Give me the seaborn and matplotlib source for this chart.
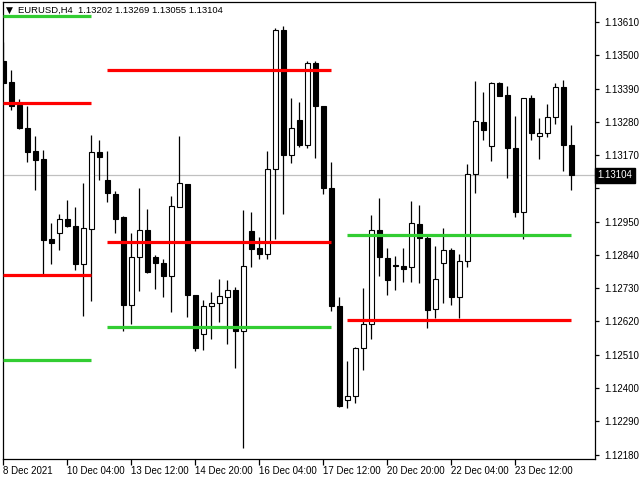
import numpy as np
import pandas as pd
import matplotlib
matplotlib.use("Agg")
import matplotlib.pyplot as plt
import matplotlib.transforms as mtransforms
import seaborn as sns

# =====================================================
# EURUSD H4 candles
# =====================================================
opens = [1.13480, 1.13413, 1.13335, 1.13261, 1.13184, 1.13157, 1.12891, 1.12914, 1.12959, 1.12936,
         1.12810, 1.12927, 1.13181, 1.13088, 1.13042, 1.12965, 1.12673, 1.12832, 1.12923, 1.12832,
         1.12813, 1.12770, 1.13000, 1.13075, 1.12708, 1.12578, 1.12671, 1.12681, 1.12702, 1.12724,
         1.12590, 1.12920, 1.12863, 1.12843, 1.13123, 1.13584, 1.13170, 1.13287, 1.13202, 1.13474,
         1.13333, 1.13062, 1.12672, 1.12361, 1.12375, 1.12531, 1.12612, 1.12923, 1.12829, 1.12807,
         1.12804, 1.12799, 1.12942, 1.12896, 1.12661, 1.12813, 1.12857, 1.12700, 1.12819, 1.13108,
         1.13279, 1.13201, 1.13408, 1.13369, 1.13195, 1.12983, 1.13358, 1.13234, 1.13243, 1.13295,
         1.13395, 1.13202]
highs = [1.13543, 1.13452, 1.13357, 1.13331, 1.13232, 1.13188, 1.12947, 1.12976, 1.13020, 1.13000,
         1.13079, 1.13235, 1.13221, 1.13184, 1.13050, 1.12969, 1.12914, 1.13062, 1.12991, 1.12840,
         1.12826, 1.13035, 1.13232, 1.13075, 1.12708, 1.12692, 1.12717, 1.12761, 1.12758, 1.12735,
         1.12987, 1.12983, 1.12899, 1.13184, 1.13591, 1.13598, 1.13358, 1.13346, 1.13481, 1.13481,
         1.13333, 1.13147, 1.12702, 1.12489, 1.12537, 1.12730, 1.12973, 1.13028, 1.12862, 1.12837,
         1.12862, 1.13017, 1.13004, 1.12909, 1.12870, 1.12928, 1.12862, 1.12843, 1.13141, 1.13416,
         1.13379, 1.13413, 1.13413, 1.13399, 1.13298, 1.13358, 1.13369, 1.13294, 1.13339, 1.13408,
         1.13418, 1.13269]
lows = [1.13409, 1.13318, 1.13257, 1.13146, 1.13055, 1.12771, 1.12810, 1.12857, 1.12932, 1.12791,
        1.12638, 1.12688, 1.13088, 1.13016, 1.12914, 1.12590, 1.12612, 1.12721, 1.12780, 1.12728,
        1.12702, 1.12652, 1.12998, 1.12636, 1.12523, 1.12525, 1.12562, 1.12617, 1.12544, 1.12467,
        1.12203, 1.12801, 1.12826, 1.12826, 1.12894, 1.12975, 1.13144, 1.13198, 1.13195, 1.13162,
        1.13040, 1.12655, 1.12338, 1.12333, 1.12351, 1.12459, 1.12561, 1.12771, 1.12706, 1.12724,
        1.12751, 1.12750, 1.12746, 1.12598, 1.12631, 1.12682, 1.12674, 1.12633, 1.12801, 1.13044,
        1.13221, 1.13151, 1.13364, 1.13095, 1.12965, 1.12892, 1.13220, 1.13157, 1.13229, 1.13272,
        1.13117, 1.13055]
closes = [1.13410, 1.13333, 1.13258, 1.13181, 1.13155, 1.12888, 1.12881, 1.12958, 1.12934, 1.12810,
          1.12929, 1.13180, 1.13165, 1.13044, 1.12960, 1.12673, 1.12832, 1.12923, 1.12782, 1.12813,
          1.12770, 1.13003, 1.13078, 1.12706, 1.12533, 1.12672, 1.12682, 1.12705, 1.12724, 1.12590,
          1.12804, 1.12858, 1.12843, 1.13123, 1.13584, 1.13170, 1.13261, 1.13202, 1.13474, 1.13331,
          1.13062, 1.12670, 1.12342, 1.12373, 1.12531, 1.12612, 1.12923, 1.12832, 1.12758, 1.12804,
          1.12795, 1.12944, 1.12895, 1.12658, 1.12761, 1.12857, 1.12700, 1.12819, 1.13108, 1.13283,
          1.13253, 1.13408, 1.13367, 1.13195, 1.12983, 1.13358, 1.13243, 1.13243, 1.13295, 1.13395,
          1.13202, 1.13104]

# support / resistance segments (first bar, last bar, levels)
seg_start = [0, 13, 43]
seg_end = [11, 41, 71]
green_levels = [[1.13629, 1.12492], [1.12601], [1.12905]]
red_levels = [[1.13342, 1.12773], [1.13451, 1.12882], [1.12624]]

date_ticks = [0, 8, 16, 24, 32, 40, 48, 56, 64]
date_labels = ["8 Dec 2021", "10 Dec 04:00", "13 Dec 12:00", "14 Dec 20:00",
               "16 Dec 04:00", "17 Dec 12:00", "20 Dec 20:00", "22 Dec 04:00",
               "23 Dec 12:00"]
price_ticks = [1.13610, 1.13500, 1.13390, 1.13280, 1.13170, 1.13060, 1.12950,
               1.12840, 1.12730, 1.12620, 1.12510, 1.12400, 1.12290, 1.12180]
last_price = 1.13104

df = pd.DataFrame({"open": opens, "high": highs, "low": lows, "close": closes})
df["bar"] = np.arange(len(df))
df["bull"] = df["close"] >= df["open"]

sns.set_style("white")
plt.rcParams["font.family"] = ["Liberation Sans", "DejaVu Sans"]

fig = plt.figure(figsize=(6.4, 4.8), dpi=100)
ax = fig.add_axes([3 / 640, 21 / 480, 592 / 640, 457 / 480])

# current price line
ax.axhline(last_price, color="#c0c0c0", linewidth=0.9, zorder=1)

# wicks then bodies
ax.vlines(df["bar"], df["low"], df["high"], color="black", linewidth=0.9, zorder=2)
body_h = (df["close"] - df["open"]).abs().clip(lower=0.00001)
body_b = df[["open", "close"]].min(axis=1)
ax.bar(df["bar"], body_h, bottom=body_b, width=0.62,
       color=np.where(df["bull"], "white", "black"),
       edgecolor="black", linewidth=0.8, zorder=3)

# level lines
for s, e, gl, rl in zip(seg_start, seg_end, green_levels, red_levels):
    for lvl in gl:
        sns.lineplot(x=[s, e], y=[lvl, lvl], color="#32cd32", linewidth=2.3,
                     ax=ax, zorder=4, solid_capstyle="butt")
    for lvl in rl:
        sns.lineplot(x=[s, e], y=[lvl, lvl], color="#ff0000", linewidth=2.3,
                     ax=ax, zorder=4, solid_capstyle="butt")

ax.set_xlim(-0.04, 73.96)
ax.set_ylim(1.121653, 1.136762)

for sp in ax.spines.values():
    sp.set_color("black")
    sp.set_linewidth(0.9)

ax.set_xticks(date_ticks)
ax.set_xticklabels(date_labels)
for lbl in ax.get_xticklabels():
    lbl.set_ha("left")
ax.set_yticks(price_ticks)
ax.set_yticklabels(["" if abs(p - 1.13060) < 1e-7 else f"{p:.5f}" for p in price_ticks])
ax.yaxis.tick_right()
ax.tick_params(axis="y", which="both", right=True, left=False, labelright=True,
               labelleft=False, direction="out", length=3, width=0.9, pad=4,
               labelsize=7, colors="black")
ax.tick_params(axis="x", bottom=True, direction="out", length=4, width=0.9,
               pad=1, labelsize=7, colors="black")
ax.set_xlabel("")
ax.set_ylabel("")
ax.grid(False)

# current price label on the scale
trans = mtransforms.blended_transform_factory(ax.transAxes, ax.transData)
ax.text(1.004, last_price, f"{last_price:.5f}", transform=trans, color="white",
        fontsize=7, va="center", ha="left", zorder=10,
        bbox=dict(boxstyle="square,pad=0.25", facecolor="black", edgecolor="black"))

# header
fig.text(6 / 640, 1 - 10 / 480, "\u25bc", fontsize=6.5, va="center", ha="left",
         family="DejaVu Sans", color="black")
fig.text(18 / 640, 1 - 10 / 480, "EURUSD,H4  1.13202 1.13269 1.13055 1.13104",
         fontsize=6.8, va="center", ha="left", color="black")

fig.savefig("out.png", dpi=100)
